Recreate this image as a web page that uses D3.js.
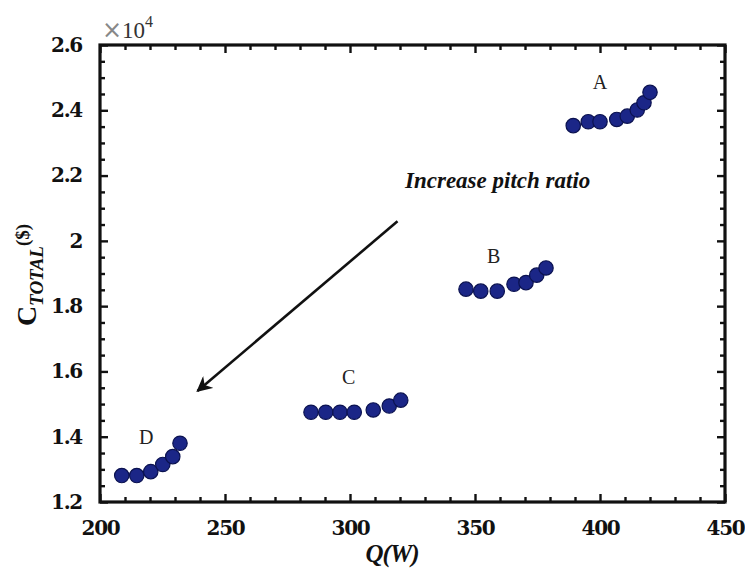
<!DOCTYPE html>
<html><head><meta charset="utf-8">
<script src="https://cdn.jsdelivr.net/npm/d3@7"></script>
<style>body{margin:0;background:#fff;}svg{display:block;}</style>
</head><body>
<script>
// Data (C_TOTAL in units of 1e4 $)
const seriesA_Q = [389.3, 395.3, 400.0, 406.7, 410.9, 414.9, 417.6, 420.0];
const seriesA_C = [2.353, 2.365, 2.365, 2.372, 2.382, 2.401, 2.423, 2.455];
const seriesB_Q = [346.4, 352.3, 358.9, 365.6, 370.4, 374.7, 378.4];
const seriesB_C = [1.852, 1.846, 1.846, 1.867, 1.872, 1.895, 1.917];
const seriesC_Q = [284.4, 290.3, 296.0, 301.7, 309.3, 315.7, 320.3];
const seriesC_C = [1.475, 1.475, 1.475, 1.475, 1.482, 1.494, 1.512];
const seriesD_Q = [208.7, 214.7, 220.3, 225.1, 229.1, 232.0];
const seriesD_C = [1.281, 1.281, 1.293, 1.315, 1.339, 1.380];
const groupLabels = ["A", "B", "C", "D"];
const labelPos = [[400, 2.465], [357.5, 1.932], [299.5, 1.561], [218.5, 1.378]];
const xTicks = [200, 250, 300, 350, 400, 450];
const yTicks = [1.2, 1.4, 1.6, 1.8, 2, 2.2, 2.4, 2.6];
const arrowFrom = [319, 2.06];
const arrowTo = [239, 1.54];

(function () {
const W = 745, H = 575;
const mLeft = 100, mRight = 725, mTop = 45, mBottom = 502;
const svg = d3.select("body").append("svg").attr("width", W).attr("height", H);
const x = d3.scaleLinear().domain([200, 450]).range([mLeft, mRight]);
const y = d3.scaleLinear().domain([1.2, 2.6]).range([mBottom, mTop]);

const xMinor = d3.range(200, 450.1, 10).filter(v => xTicks.indexOf(v) < 0);
const yMinor = d3.range(1.2, 2.6001, 0.05).map(v => +v.toFixed(2)).filter(v => !yTicks.some(t => Math.abs(t - v) < 1e-6));

const serif = "'Liberation Serif', serif";
const tickFont = "'DejaVu Serif', serif";
function styleAxis(g) {
  g.select(".domain").remove();
  g.selectAll(".tick line").attr("stroke", "#111").attr("stroke-width", 2.4);
  g.selectAll("text").attr("font-family", tickFont).attr("font-weight", "bold")
    .attr("font-size", 20).attr("letter-spacing", "-1.3").attr("fill", "#111");
}
// bottom
svg.append("g").attr("transform", `translate(0,${mBottom})`)
  .call(d3.axisBottom(x).tickValues(xTicks).tickSize(-8).tickPadding(19).tickFormat(d3.format("d")))
  .call(styleAxis);
svg.append("g").attr("transform", `translate(0,${mBottom})`)
  .call(d3.axisBottom(x).tickValues(xMinor).tickSize(-5).tickFormat(""))
  .call(styleAxis);
// top
svg.append("g").attr("transform", `translate(0,${mTop})`)
  .call(d3.axisTop(x).tickValues(xTicks).tickSize(-8).tickFormat(""))
  .call(styleAxis);
svg.append("g").attr("transform", `translate(0,${mTop})`)
  .call(d3.axisTop(x).tickValues(xMinor).tickSize(-5).tickFormat(""))
  .call(styleAxis);
// left
svg.append("g").attr("transform", `translate(${mLeft},0)`)
  .call(d3.axisLeft(y).tickValues(yTicks).tickSize(-8).tickPadding(18).tickFormat(d => d === 2 ? "2" : d3.format(".1f")(d)))
  .call(styleAxis);
svg.append("g").attr("transform", `translate(${mLeft},0)`)
  .call(d3.axisLeft(y).tickValues(yMinor).tickSize(-5).tickFormat(""))
  .call(styleAxis);
// right
svg.append("g").attr("transform", `translate(${mRight},0)`)
  .call(d3.axisRight(y).tickValues(yTicks).tickSize(-8).tickFormat(""))
  .call(styleAxis);
svg.append("g").attr("transform", `translate(${mRight},0)`)
  .call(d3.axisRight(y).tickValues(yMinor).tickSize(-5).tickFormat(""))
  .call(styleAxis);

// frame
svg.append("rect").attr("x", mLeft).attr("y", mTop).attr("width", mRight - mLeft).attr("height", mBottom - mTop)
  .attr("fill", "none").attr("stroke", "#111").attr("stroke-width", 3.2);

// points
const groups = [[seriesA_Q, seriesA_C], [seriesB_Q, seriesB_C], [seriesC_Q, seriesC_C], [seriesD_Q, seriesD_C]];
groups.forEach(([qs, cs]) => {
  svg.append("g").selectAll("circle").data(qs.map((q, i) => [q, cs[i]])).join("circle")
    .attr("cx", d => x(d[0])).attr("cy", d => y(d[1])).attr("r", 7.2)
    .attr("fill", "#1b2687").attr("stroke", "#0b1250").attr("stroke-width", 1.2);
});

// group labels
svg.append("g").selectAll("text").data(groupLabels).join("text")
  .attr("x", (d, i) => x(labelPos[i][0])).attr("y", (d, i) => y(labelPos[i][1]))
  .attr("text-anchor", "middle").attr("font-family", serif).attr("font-size", 20).attr("fill", "#222")
  .text(d => d);

// arrow
const defs = svg.append("defs");
defs.append("marker").attr("id", "ah").attr("viewBox", "0 0 10 10").attr("refX", 9).attr("refY", 5)
  .attr("markerWidth", 6).attr("markerHeight", 6).attr("markerUnits", "strokeWidth").attr("orient", "auto")
  .append("path").attr("d", "M0,0 L10,5 L0,10 L3,5 Z").attr("fill", "#111");
svg.append("line").attr("x1", x(arrowFrom[0])).attr("y1", y(arrowFrom[1]))
  .attr("x2", x(arrowTo[0])).attr("y2", y(arrowTo[1]))
  .attr("stroke", "#111").attr("stroke-width", 2.6).attr("marker-end", "url(#ah)");
svg.append("text").attr("x", 405).attr("y", 188).attr("font-family", serif)
  .attr("font-weight", "bold").attr("font-style", "italic").attr("font-size", 23).attr("fill", "#111")
  .text("Increase pitch ratio");

// exponent
const ex = svg.append("text").attr("x", 102).attr("y", 38).attr("font-family", serif).attr("font-size", 23).attr("fill", "#333");
ex.append("tspan").attr("fill", "#888").attr("font-family", "'DejaVu Sans', sans-serif").attr("font-size", 24).text("×");
ex.append("tspan").text("10");
ex.append("tspan").attr("dy", -11).attr("font-size", 16).text("4");

// x label
svg.append("text").attr("x", 392).attr("y", 562).attr("text-anchor", "middle").attr("font-family", serif)
  .attr("font-weight", "bold").attr("font-style", "italic").attr("font-size", 25).attr("letter-spacing", "-1").attr("fill", "#111")
  .text("Q(W)");

// y label
const yl = svg.append("text").attr("transform", "translate(36,275) rotate(-90)").attr("text-anchor", "middle")
  .attr("font-family", serif).attr("font-weight", "bold").attr("fill", "#111").attr("font-size", 28);
yl.append("tspan").text("C");
yl.append("tspan").attr("dy", 7).attr("font-size", 19).attr("font-style", "italic").text("TOTAL");
yl.append("tspan").attr("dy", -14).attr("font-size", 19).text("($)");
})();
</script>
</body></html>
